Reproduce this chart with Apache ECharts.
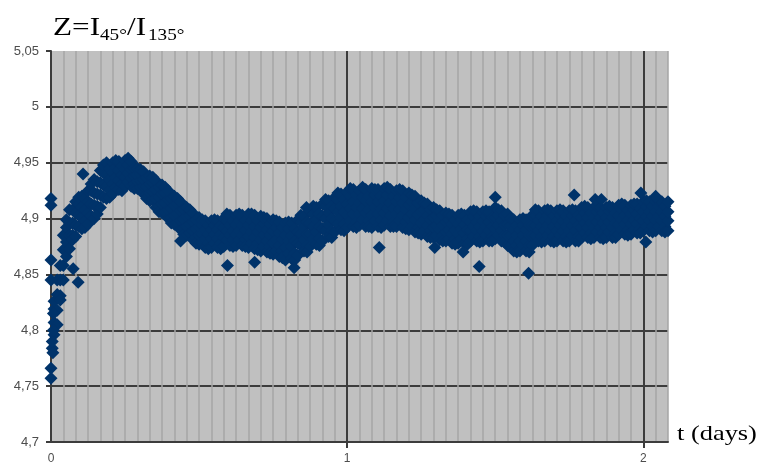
<!DOCTYPE html>
<html>
<head>
<meta charset="utf-8">
<script src="https://cdn.jsdelivr.net/npm/echarts@6/dist/echarts.min.js"></script>
<style>
	html, body { margin: 0; padding: 0; background: #fff; }
	#main { width: 762px; height: 466px; }
</style>
</head>
<body>
<div id="main"></div>
<script>
var firstDay = [
	[0.25, 4.796, 4.807, 4.819, 4.826], [0.5, 4.805, 4.818, 4.832, 4.845], [0.75, 4.831, 4.845, 4.858, 4.827],
	[1, 4.845, 4.858, 4.872, 4.885], [1.25, 4.866, 4.879, 4.892, 4.899], [1.5, 4.873, 4.885, 4.896, 4.908],
	[1.75, 4.885, 4.896, 4.908, 4.881], [2, 4.884, 4.894, 4.905, 4.915], [2.25, 4.893, 4.903, 4.913, 4.919],
	[2.5, 4.891, 4.901, 4.910, 4.920], [2.75, 4.898, 4.908, 4.918, 4.892], [3, 4.895, 4.905, 4.915, 4.925],
	[3.25, 4.902, 4.913, 4.925, 4.931], [3.5, 4.900, 4.912, 4.923, 4.935], [3.75, 4.911, 4.922, 4.933, 4.904],
	[4, 4.910, 4.921, 4.932, 4.943], [4.25, 4.919, 4.930, 4.941, 4.948], [4.5, 4.918, 4.929, 4.939, 4.950],
	[4.75, 4.925, 4.935, 4.945, 4.919], [5, 4.922, 4.931, 4.941, 4.950], [5.25, 4.928, 4.937, 4.946, 4.952],
	[5.5, 4.926, 4.934, 4.943, 4.951], [5.75, 4.931, 4.939, 4.947, 4.925], [6, 4.929, 4.937, 4.944, 4.952],
	[6.25, 4.933, 4.941, 4.948, 4.954], [6.5, 4.929, 4.936, 4.944, 4.951], [6.75, 4.931, 4.938, 4.945, 4.927],
	[7, 4.927, 4.933, 4.939, 4.945], [7.25, 4.928, 4.934, 4.940, 4.944], [7.5, 4.922, 4.929, 4.935, 4.942],
	[7.75, 4.922, 4.929, 4.937, 4.918], [8, 4.916, 4.923, 4.931, 4.938], [8.25, 4.917, 4.924, 4.932, 4.937],
	[8.5, 4.910, 4.918, 4.926, 4.934], [8.75, 4.911, 4.919, 4.928, 4.906], [9, 4.905, 4.913, 4.922, 4.930],
	[9.25, 4.906, 4.914, 4.923, 4.928], [9.5, 4.900, 4.908, 4.917, 4.925], [9.75, 4.901, 4.909, 4.918, 4.896],
	[10, 4.895, 4.903, 4.912, 4.920], [10.25, 4.896, 4.904, 4.913, 4.918], [10.5, 4.890, 4.898, 4.907, 4.915],
	[10.75, 4.891, 4.899, 4.908, 4.886], [11, 4.885, 4.893, 4.902, 4.910], [11.25, 4.887, 4.895, 4.903, 4.908],
	[11.5, 4.881, 4.889, 4.897, 4.905], [11.75, 4.883, 4.891, 4.899, 4.878], [12, 4.877, 4.885, 4.893, 4.901],
	[12.25, 4.878, 4.886, 4.894, 4.899], [12.5, 4.874, 4.882, 4.890, 4.898], [12.75, 4.878, 4.886, 4.894, 4.873],
	[13, 4.874, 4.882, 4.890, 4.898], [13.25, 4.878, 4.886, 4.894, 4.899], [13.5, 4.874, 4.882, 4.890, 4.898],
	[13.75, 4.878, 4.886, 4.894, 4.873], [14, 4.875, 4.883, 4.892, 4.900], [14.25, 4.881, 4.889, 4.898, 4.904],
	[14.5, 4.876, 4.885, 4.894, 4.903], [14.75, 4.881, 4.889, 4.898, 4.875], [15, 4.876, 4.885, 4.894, 4.903],
	[15.25, 4.881, 4.889, 4.898, 4.904], [15.5, 4.876, 4.885, 4.894, 4.903], [15.75, 4.881, 4.889, 4.898, 4.875],
	[16, 4.874, 4.884, 4.894, 4.904], [16.25, 4.878, 4.888, 4.898, 4.904], [16.5, 4.873, 4.883, 4.893, 4.903],
	[16.75, 4.878, 4.888, 4.898, 4.872], [17, 4.871, 4.881, 4.892, 4.902], [17.25, 4.875, 4.885, 4.895, 4.901],
	[17.5, 4.870, 4.880, 4.890, 4.900], [17.75, 4.875, 4.885, 4.895, 4.869], [18, 4.868, 4.878, 4.889, 4.899],
	[18.25, 4.871, 4.881, 4.892, 4.898], [18.5, 4.866, 4.876, 4.887, 4.897], [18.75, 4.871, 4.881, 4.892, 4.865],
	[19, 4.863, 4.874, 4.885, 4.896], [19.25, 4.869, 4.880, 4.891, 4.897], [19.5, 4.864, 4.875, 4.885, 4.896],
	[19.75, 4.869, 4.880, 4.891, 4.863], [20, 4.867, 4.878, 4.888, 4.899], [20.25, 4.876, 4.886, 4.897, 4.903],
	[20.5, 4.871, 4.881, 4.892, 4.902], [20.75, 4.876, 4.886, 4.897, 4.870], [21, 4.875, 4.886, 4.896, 4.907],
	[21.25, 4.882, 4.893, 4.904, 4.911], [21.5, 4.877, 4.888, 4.899, 4.910], [21.75, 4.882, 4.893, 4.904, 4.876],
	[22, 4.880, 4.891, 4.902, 4.913], [22.25, 4.889, 4.900, 4.911, 4.917], [22.5, 4.884, 4.895, 4.905, 4.916],
	[22.75, 4.889, 4.900, 4.911, 4.883], [23, 4.888, 4.898, 4.909, 4.919], [23.25, 4.895, 4.906, 4.917, 4.923],
	[23.5, 4.890, 4.901, 4.911, 4.922], [23.75, 4.895, 4.906, 4.917, 4.889]
];
var secondDay = [
	[24, 4.892, 4.903, 4.913, 4.924], [24.25, 4.898, 4.909, 4.920, 4.927], [24.5, 4.893, 4.904, 4.915, 4.926],
	[24.75, 4.897, 4.910, 4.921, 4.892], [25, 4.894, 4.904, 4.914, 4.925], [25.25, 4.899, 4.909, 4.919, 4.928],
	[25.5, 4.893, 4.905, 4.916, 4.926], [25.75, 4.898, 4.908, 4.920, 4.893], [26, 4.892, 4.903, 4.915, 4.927],
	[26.25, 4.898, 4.910, 4.921, 4.926], [26.5, 4.893, 4.904, 4.915, 4.926], [26.75, 4.899, 4.909, 4.920, 4.892],
	[27, 4.894, 4.905, 4.916, 4.927], [27.25, 4.898, 4.909, 4.921, 4.928], [27.5, 4.893, 4.903, 4.914, 4.926],
	[27.75, 4.897, 4.909, 4.920, 4.893], [28, 4.893, 4.904, 4.915, 4.925], [28.25, 4.898, 4.908, 4.919, 4.926],
	[28.5, 4.892, 4.903, 4.914, 4.925], [28.75, 4.897, 4.908, 4.919, 4.891], [29, 4.890, 4.901, 4.912, 4.923],
	[29.25, 4.893, 4.904, 4.915, 4.921], [29.5, 4.888, 4.899, 4.909, 4.920], [29.75, 4.892, 4.903, 4.914, 4.887],
	[30, 4.886, 4.896, 4.906, 4.916], [30.25, 4.889, 4.899, 4.908, 4.914], [30.5, 4.884, 4.894, 4.903, 4.913],
	[30.75, 4.889, 4.899, 4.908, 4.883], [31, 4.883, 4.892, 4.901, 4.910], [31.25, 4.885, 4.894, 4.903, 4.908],
	[31.5, 4.881, 4.890, 4.898, 4.907], [31.75, 4.885, 4.894, 4.903, 4.880], [32, 4.880, 4.888, 4.897, 4.905],
	[32.25, 4.882, 4.890, 4.899, 4.904], [32.5, 4.878, 4.886, 4.895, 4.903], [32.75, 4.882, 4.890, 4.899, 4.877],
	[33, 4.878, 4.886, 4.895, 4.903], [33.25, 4.882, 4.891, 4.899, 4.904], [33.5, 4.878, 4.887, 4.895, 4.903],
	[33.75, 4.882, 4.890, 4.899, 4.877], [34, 4.880, 4.889, 4.897, 4.906], [34.25, 4.884, 4.893, 4.902, 4.907],
	[34.5, 4.880, 4.889, 4.897, 4.906], [34.75, 4.884, 4.893, 4.902, 4.879], [35, 4.880, 4.889, 4.898, 4.906],
	[35.25, 4.885, 4.893, 4.902, 4.907], [35.5, 4.880, 4.889, 4.897, 4.906], [35.75, 4.884, 4.893, 4.901, 4.880],
	[36, 4.882, 4.891, 4.901, 4.910], [36.25, 4.885, 4.894, 4.903, 4.908], [36.5, 4.880, 4.889, 4.898, 4.907],
	[36.75, 4.885, 4.894, 4.903, 4.879], [37, 4.876, 4.885, 4.895, 4.904], [37.25, 4.876, 4.885, 4.894, 4.900],
	[37.5, 4.871, 4.880, 4.890, 4.899], [37.75, 4.876, 4.885, 4.894, 4.870], [38, 4.871, 4.880, 4.890, 4.899],
	[38.25, 4.876, 4.885, 4.894, 4.900], [38.5, 4.871, 4.880, 4.890, 4.899], [38.75, 4.876, 4.885, 4.894, 4.870],
	[39, 4.876, 4.885, 4.894, 4.903], [39.25, 4.885, 4.894, 4.903, 4.908], [39.5, 4.880, 4.889, 4.898, 4.907],
	[39.75, 4.884, 4.893, 4.902, 4.879], [40, 4.880, 4.889, 4.898, 4.907], [40.25, 4.885, 4.894, 4.903, 4.908],
	[40.5, 4.880, 4.889, 4.898, 4.907], [40.75, 4.884, 4.893, 4.902, 4.879], [41, 4.880, 4.889, 4.898, 4.907],
	[41.25, 4.885, 4.894, 4.903, 4.908], [41.5, 4.880, 4.889, 4.898, 4.907], [41.75, 4.884, 4.893, 4.902, 4.879],
	[42, 4.880, 4.889, 4.898, 4.907], [42.25, 4.885, 4.894, 4.903, 4.908], [42.5, 4.880, 4.889, 4.898, 4.907],
	[42.75, 4.884, 4.894, 4.903, 4.880], [43, 4.883, 4.892, 4.901, 4.910], [43.25, 4.887, 4.896, 4.905, 4.911],
	[43.5, 4.883, 4.892, 4.901, 4.910], [43.75, 4.887, 4.896, 4.905, 4.882], [44, 4.883, 4.892, 4.901, 4.910],
	[44.25, 4.888, 4.897, 4.906, 4.911], [44.5, 4.883, 4.892, 4.901, 4.910], [44.75, 4.887, 4.896, 4.905, 4.882],
	[45, 4.883, 4.892, 4.901, 4.910], [45.25, 4.888, 4.897, 4.906, 4.911], [45.5, 4.883, 4.892, 4.901, 4.910],
	[45.75, 4.887, 4.896, 4.905, 4.883], [46, 4.886, 4.895, 4.903, 4.912], [46.25, 4.890, 4.899, 4.908, 4.913],
	[46.5, 4.886, 4.895, 4.903, 4.912], [46.75, 4.890, 4.899, 4.908, 4.885], [47, 4.886, 4.895, 4.904, 4.912],
	[47.25, 4.890, 4.899, 4.908, 4.913], [47.5, 4.887, 4.895, 4.904, 4.913], [47.75, 4.891, 4.900, 4.909, 4.887],
	[48, 4.889, 4.898, 4.906, 4.915], [48.25, 4.893, 4.902, 4.911, 4.916], [48.5, 4.889, 4.898, 4.906, 4.915],
	[48.75, 4.893, 4.902, 4.911, 4.888], [49, 4.889, 4.898, 4.906, 4.915], [49.25, 4.893, 4.902, 4.911, 4.916],
	[49.5, 4.889, 4.898, 4.906, 4.915], [49.75, 4.893, 4.902, 4.911, 4.888], [50, 4.889, 4.898, 4.906, 4.915]
];
// single readings: the scattered start and the strays off the cloud
var strayHours = [0, 0, 0.1, 0.1, 0.15, 0.2, 0.2, 0, 0, 0, 0,
	1.8, 2.2, 2.6, 10.5, 14.3, 16.5, 19.7, 20.7, 26.6, 31.1, 33.4, 34.7, 36, 38.7, 42.4, 44.1, 44.6, 47.8, 48.2, 49];
var strayZ = [4.757, 4.766, 4.784, 4.790, 4.780, 4.800, 4.815, 4.845, 4.863, 4.912, 4.918,
	4.855, 4.843, 4.940, 4.880, 4.858, 4.861, 4.856, 4.910, 4.874, 4.874, 4.870, 4.857, 4.919, 4.851, 4.921, 4.917, 4.917, 4.923, 4.879, 4.920];

var dayTicks = [0, 1, 2];

var points = [];
function addRows(rows) {
	for (var i = 0; i < rows.length; i++) {
		for (var j = 1; j < rows[i].length; j++) {
			points.push([rows[i][0], rows[i][j]]);
		}
	}
}
addRows(firstDay);
addRows(secondDay);
for (var k = 0; k < strayHours.length; k++) {
	points.push([strayHours[k], strayZ[k]]);
}

// the original picture is a little stretched sideways, so the texts are too
function label(x, y, text, size, stretch) {
	return {
		type: 'text',
		x: x,
		y: y,
		scaleX: stretch,
		style: { text: text, font: size + 'px "Liberation Serif"', fill: '#000', verticalAlign: 'top' }
	};
}

var myChart = echarts.init(document.getElementById('main'));
var option = {
	animation: false,
	graphic: [
		label(53, 15, 'Z=I', 26, 1.2),
		label(100, 28, '45°', 16, 1.2),
		label(127, 15, '/I', 26, 1.2),
		label(148, 28, '135°', 16, 1.2),
		label(677, 423, 't (days)', 22, 1.2)
	],
	grid: {
		left: 51,
		right: 94,
		top: 51,
		bottom: 24,
		show: true,
		backgroundColor: '#c0c0c0',
		borderWidth: 0
	},
	xAxis: [{
		// hourly light grid lines
		type: 'value',
		min: 0,
		max: 50,
		interval: 1,
		axisLine: { show: false },
		axisTick: { show: false },
		axisLabel: { show: false },
		splitLine: { show: true, lineStyle: { color: '#a6a6a6', width: 1.5 } }
	}, {
		// day ticks, labels and dark lines
		type: 'value',
		min: 0,
		max: 50,
		interval: 24,
		position: 'bottom',
		axisLine: { show: true, onZero: false, lineStyle: { color: '#3c3c3c', width: 2 } },
		axisTick: { show: true, length: 6, customValues: [24, 48], lineStyle: { color: '#3c3c3c', width: 2 } },
		axisLabel: {
			customValues: dayTicks.map(function(d) { return d * 24; }),
			formatter: function(v) { return String(Math.round(v / 24)); },
			color: '#4d4d4d',
			fontFamily: 'Liberation Sans',
			fontSize: 12,
			margin: 11
		},
		splitLine: { show: false }
	}],
	yAxis: {
		type: 'value',
		min: 4.7,
		max: 5.05,
		interval: 0.05,
		axisLine: { show: true, lineStyle: { color: '#3c3c3c', width: 2 } },
		axisTick: { show: true, length: 5, lineStyle: { color: '#3c3c3c', width: 2 } },
		axisLabel: {
			formatter: function(v) { return String(parseFloat(v.toFixed(2))).replace('.', ','); },
			color: '#4d4d4d',
			fontFamily: 'Liberation Sans',
			fontSize: 13,
			margin: 12
		},
		splitLine: {
			show: true,
			lineStyle: {
				color: ['#3c3c3c', '#3c3c3c', '#3c3c3c', '#3c3c3c', '#3c3c3c', '#3c3c3c', '#3c3c3c', 'rgba(0,0,0,0)'],
				width: 2
			}
		}
	},
	series: [{
		type: 'line',
		xAxisIndex: 1,
		data: [],
		markLine: {
			silent: true,
			z: 1,
			symbol: 'none',
			label: { show: false },
			lineStyle: { color: '#3c3c3c', width: 2, type: 'solid' },
			data: [{ xAxis: 24 }, { xAxis: 48 }]
		}
	}, {
		type: 'scatter',
		xAxisIndex: 0,
		symbol: 'diamond',
		symbolSize: [13, 13],
		large: false,
		itemStyle: { color: '#00336a', opacity: 1, borderWidth: 0 },
		z: 6,
		data: points
	}]
};
myChart.setOption(option);
</script>
</body>
</html>
